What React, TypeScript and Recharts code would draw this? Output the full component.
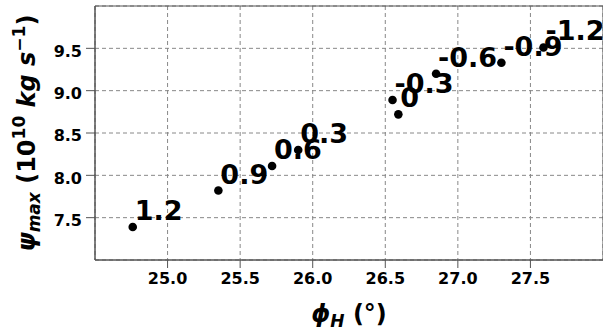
import React from "react";
import {
  ScatterChart,
  Scatter,
  XAxis,
  YAxis,
  CartesianGrid,
  ReferenceArea,
} from "recharts";

// scan parameter attached to each point, in order
const paramLabels = ["1.2", "0.9", "0.6", "0.3", "0", "-0.3", "-0.6", "-0.9", "-1.2"];
// phi_H (degrees)
const phiH = [24.76, 25.35, 25.72, 25.9, 26.59, 26.55, 26.85, 27.3, 27.59];
// psi_max (1e10 kg/s)
const psiMax = [7.39, 7.82, 8.11, 8.3, 8.72, 8.89, 9.2, 9.33, 9.51];

const xTicks = [25.0, 25.5, 26.0, 26.5, 27.0, 27.5];
const yTicks = [7.5, 8.0, 8.5, 9.0, 9.5];

const points = phiH.map((x, i) => ({ x, y: psiMax[i], label: paramLabels[i] }));

const FONT = "'DejaVu Sans', sans-serif";
const FRAME = "#555";

function PointWithLabel(props: any) {
  const { cx, cy, payload } = props;
  return (
    <g>
      <circle cx={cx} cy={cy} r={4.3} fill="#000" />
      <text
        x={cx + 2}
        y={cy - 7}
        fontFamily={FONT}
        fontWeight="bold"
        fontSize={27}
        fill="#000"
      >
        {payload.label}
      </text>
    </g>
  );
}

// y tick labels sit a touch below the tick, like matplotlib's center_baseline
function YTick(props: any) {
  const { x, y, payload } = props;
  return (
    <text
      x={x}
      y={y + 2.5}
      dy="0.355em"
      textAnchor="end"
      fontFamily={FONT}
      fontWeight="bold"
      fontSize={16}
      fill="#000"
    >
      {Number(payload.value).toFixed(1)}
    </text>
  );
}

function YTitle(props: any) {
  const { viewBox } = props;
  const cy = viewBox.y + viewBox.height / 2;
  const x = 35;
  return (
    <text
      x={x}
      y={cy}
      transform={`rotate(-90, ${x}, ${cy})`}
      textAnchor="middle"
      fontFamily={FONT}
      fontWeight="bold"
      fontSize={24}
      fill="#000"
    >
      <tspan fontStyle="italic">ψ</tspan>
      <tspan fontStyle="italic" fontSize={17} dy={5}>max</tspan>
      <tspan dy={-5}> (10</tspan>
      <tspan fontSize={17} dy={-10}>10</tspan>
      <tspan dy={10}> </tspan>
      <tspan fontStyle="italic">kg s</tspan>
      <tspan fontSize={17} dy={-10}>−1</tspan>
      <tspan dy={10}>)</tspan>
    </text>
  );
}

function XTitle(props: any) {
  const { viewBox } = props;
  const cx = viewBox.x + viewBox.width / 2;
  return (
    <text
      x={cx}
      y={322}
      textAnchor="middle"
      fontFamily={FONT}
      fontWeight="bold"
      fontSize={24}
      fill="#000"
    >
      <tspan fontStyle="italic">ϕ</tspan>
      <tspan fontStyle="italic" fontSize={17} dy={5}>H</tspan>
      <tspan dy={-5}> (°)</tspan>
    </text>
  );
}

export default function App() {
  return (
    <div style={{ position: "absolute", left: 0, top: 0 }}>
      <ScatterChart
        width={603}
        height={330}
        margin={{ top: 6, right: 0, bottom: 0, left: 0 }}
      >
        <CartesianGrid stroke="#888" strokeDasharray="4 3" />
        <XAxis
          type="number"
          dataKey="x"
          domain={[24.5, 28.0]}
          ticks={xTicks}
          tickFormatter={(v: number) => v.toFixed(1)}
          height={70}
          tickSize={8}
          tickMargin={5}
          axisLine={{ stroke: FRAME }}
          tickLine={{ stroke: FRAME }}
          tick={{ fill: "#000", fontSize: 16, fontWeight: "bold", fontFamily: FONT }}
          label={{ content: XTitle }}
          allowDataOverflow
        />
        <YAxis
          type="number"
          dataKey="y"
          domain={[7.0, 10.0]}
          ticks={yTicks}
          width={95}
          tickSize={9}
          tickMargin={4}
          axisLine={{ stroke: FRAME }}
          tickLine={{ stroke: FRAME }}
          tick={YTick}
          label={{ content: YTitle }}
          allowDataOverflow
        />
        <ReferenceArea
          x1={24.5}
          x2={28.0}
          y1={7.0}
          y2={10.0}
          fill="none"
          stroke={FRAME}
          strokeWidth={1}
        />
        <Scatter
          data={points}
          fill="#000"
          shape={PointWithLabel}
          isAnimationActive={false}
        />
      </ScatterChart>
    </div>
  );
}
